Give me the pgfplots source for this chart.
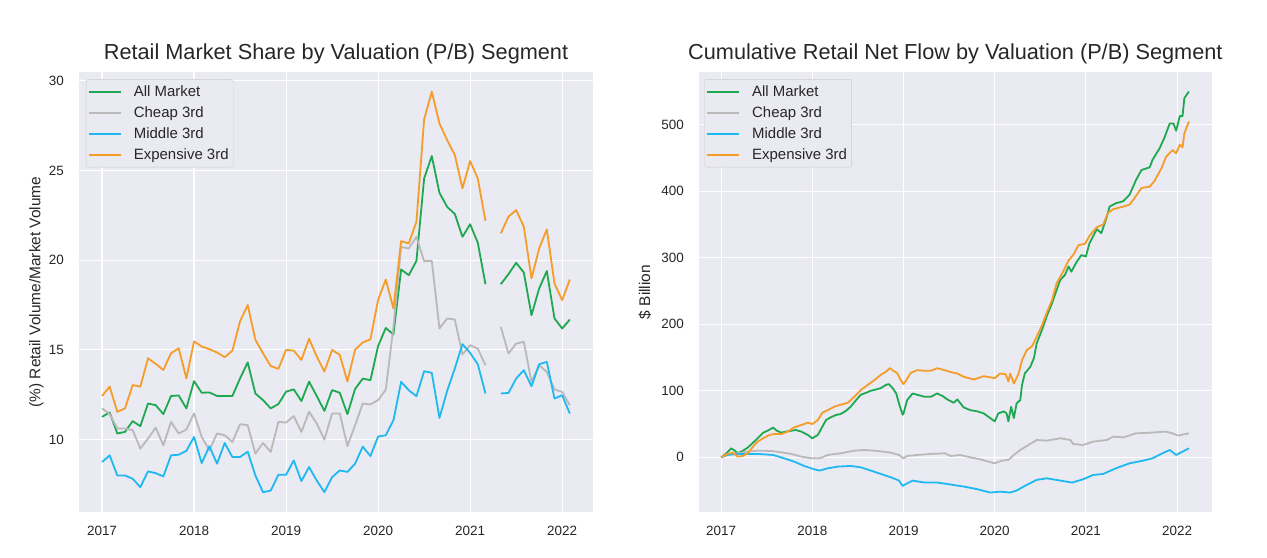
\documentclass[border=0pt]{standalone}
\usepackage{fontspec}
\setmainfont{Liberation Sans}
\usepackage{pgfplots}
\usepackage{pgfplotstable}
\pgfplotsset{compat=1.18}
\definecolor{bg}{HTML}{EAEAF2}
\definecolor{cgreen}{RGB}{30,168,80}
\definecolor{cgray}{RGB}{185,185,185}
\definecolor{cblue}{RGB}{30,185,240}
\definecolor{corange}{RGB}{246,156,40}
\definecolor{ctext}{HTML}{262626}

\pgfplotstableread{
m all cheap middle expensive
0 11.27 11.74 8.75 12.43
1 11.51 11.42 9.12 12.95
2 10.34 10.62 8.00 11.55
3 10.43 10.62 8.00 11.74
4 11.03 10.52 7.82 13.04
5 10.75 9.50 7.35 12.95
6 12.01 10.06 8.23 14.53
7 11.92 10.67 8.13 14.22
8 11.42 9.68 7.95 13.88
9 12.43 10.99 9.12 14.81
10 12.46 10.34 9.16 15.09
11 11.74 10.56 9.37 13.41
12 13.26 11.46 10.15 15.47
13 12.61 10.15 8.69 15.19
14 12.63 9.40 9.63 15.04
15 12.43 10.34 8.66 14.85
16 12.43 10.24 9.81 14.59
17 12.43 9.87 9.03 14.96
18 13.41 10.86 9.03 16.59
19 14.30 10.80 9.33 17.50
20 12.57 9.22 8.00 15.56
21 12.20 9.81 7.07 14.81
22 11.74 9.31 7.16 14.10
23 11.98 10.99 8.04 13.94
24 12.67 10.95 8.04 15.00
25 12.80 11.31 8.84 14.96
26 12.15 10.43 7.69 14.44
27 13.23 11.55 8.47 15.62
28 12.43 10.90 7.72 14.63
29 11.60 10.00 7.07 13.79
30 12.76 11.46 7.91 15.00
31 12.61 11.46 8.28 14.72
32 11.42 9.64 8.20 13.24
33 12.82 10.80 8.66 15.01
34 13.40 12.01 9.61 15.41
35 13.31 11.96 9.08 15.59
36 15.21 12.20 10.17 17.78
37 16.22 12.78 10.24 18.92
38 15.86 16.28 11.08 17.30
39 19.48 20.74 13.22 21.06
40 19.16 20.65 12.75 20.93
41 19.96 21.30 12.42 22.14
42 24.55 19.94 13.81 27.84
43 25.80 19.96 13.72 29.39
44 23.75 16.19 11.21 27.62
45 22.97 16.75 12.71 26.69
46 22.57 16.69 13.96 25.86
47 21.30 14.74 15.32 24.00
48 22.00 15.26 14.83 25.52
49 20.97 15.07 14.20 24.55
50 18.66 14.14 12.57 22.19
51 nan nan nan nan
52 18.66 16.28 12.57 21.49
53 19.22 14.80 12.60 22.42
54 19.85 15.35 13.40 22.79
55 19.31 15.45 13.87 21.86
56 16.93 13.22 12.97 18.98
57 18.42 14.14 14.20 20.65
58 19.39 13.77 14.33 21.71
59 16.75 12.79 12.29 18.70
60 16.19 12.66 12.47 17.77
61 16.69 11.91 11.45 18.92
}\sharetable

\pgfplotstableread{
x y
2017.00 0
2017.05 5
2017.11 13.5
2017.15 10
2017.18 6
2017.24 10
2017.29 14.5
2017.35 22
2017.40 28.6
2017.46 37
2017.51 40
2017.57 44.6
2017.61 40
2017.66 37
2017.71 38.6
2017.77 40
2017.82 41
2017.88 38.6
2017.95 33.6
2018.00 28.6
2018.06 33.6
2018.09 41
2018.15 56
2018.20 60
2018.26 63.7
2018.31 65
2018.37 70
2018.42 76
2018.48 86
2018.53 94
2018.59 97
2018.64 100
2018.70 102
2018.75 104
2018.81 109
2018.84 110
2018.88 104
2018.92 96
2018.95 81
2018.99 64
2019.00 66
2019.04 86
2019.10 96
2019.15 94
2019.23 91
2019.30 91
2019.37 96
2019.43 92
2019.48 87
2019.55 82
2019.59 87
2019.66 75
2019.73 71
2019.81 69
2019.88 66
2019.95 59
2020.00 54
2020.04 66
2020.10 69
2020.13 66
2020.15 54
2020.18 76
2020.21 59
2020.24 81
2020.28 86
2020.30 109
2020.33 126
2020.39 136
2020.43 149
2020.46 171
2020.52 192
2020.57 212
2020.63 232
2020.68 252
2020.72 267
2020.77 274
2020.81 287
2020.84 279
2020.90 294
2020.95 304
2021.00 302
2021.04 322
2021.12 343
2021.17 337
2021.23 362
2021.26 377
2021.33 382
2021.41 385
2021.48 395
2021.55 417
2021.61 432
2021.70 436
2021.73 447
2021.81 465
2021.86 480
2021.92 502
2021.96 502
2021.99 491
2022.03 513
2022.06 513
2022.08 540
2022.13 550
}\flowall

\pgfplotstableread{
x y
2017.00 0
2017.07 5
2017.13 7
2017.18 1
2017.24 2
2017.29 6
2017.35 16
2017.40 23.6
2017.46 28.6
2017.53 33.6
2017.58 35
2017.66 35
2017.73 38.6
2017.80 45
2017.88 48.6
2017.95 52
2018.00 50
2018.06 56
2018.11 67
2018.17 71
2018.24 76
2018.31 79
2018.39 82
2018.46 91
2018.53 101
2018.61 109
2018.68 116
2018.75 124
2018.81 129
2018.85 134
2018.90 129
2018.93 127
2018.97 116
2019.00 110
2019.03 116
2019.08 127
2019.15 131
2019.23 130
2019.30 130
2019.37 134
2019.45 131
2019.52 128
2019.59 126
2019.66 121
2019.77 117
2019.88 122
2020.00 119
2020.06 126
2020.12 125
2020.15 114
2020.17 126
2020.21 111
2020.26 125
2020.30 146
2020.35 161
2020.41 167
2020.47 184
2020.52 199
2020.57 217
2020.63 237
2020.68 262
2020.75 279
2020.81 296
2020.86 304
2020.92 319
2020.99 321
2021.04 333
2021.12 346
2021.19 350
2021.24 367
2021.30 373
2021.41 377
2021.48 380
2021.55 393
2021.61 405
2021.70 407
2021.75 415
2021.83 435
2021.88 452
2021.95 462
2021.99 457
2022.03 470
2022.06 466
2022.08 487
2022.13 505
}\flowexp

\pgfplotstableread{
x y
2017.00 0
2017.07 5
2017.18 6
2017.29 8.5
2017.40 10
2017.55 9.5
2017.66 7.5
2017.77 5
2017.88 1
2017.99 -1.5
2018.08 -1.5
2018.17 3.5
2018.31 6
2018.46 10
2018.57 11
2018.72 9.5
2018.86 7
2018.95 3.5
2019.00 -1.5
2019.04 2
2019.15 3.5
2019.30 5
2019.45 6
2019.52 2
2019.62 3.5
2019.73 0
2019.84 -3
2019.93 -6.5
2020.00 -9
2020.08 -5
2020.15 -4
2020.21 3.5
2020.28 11
2020.37 18.5
2020.46 26
2020.57 25
2020.72 28.6
2020.83 26
2020.86 20
2020.97 18.5
2021.08 23.6
2021.23 26
2021.30 31
2021.41 30
2021.55 36
2021.70 37
2021.88 38.6
2021.95 36
2022.01 32.6
2022.13 36
}\flowcheap

\pgfplotstableread{
x y
2017.00 0
2017.07 3.5
2017.18 5
2017.40 5
2017.57 3.5
2017.69 -1.5
2017.80 -6.5
2017.91 -13
2018.02 -18
2018.08 -20
2018.17 -16.5
2018.28 -14
2018.42 -13
2018.53 -15
2018.64 -20
2018.75 -25
2018.86 -30
2018.95 -35
2018.99 -43
2019.03 -40
2019.10 -35
2019.23 -38
2019.37 -38
2019.52 -41
2019.66 -44
2019.81 -48
2019.95 -53
2020.06 -51.7
2020.17 -53
2020.24 -50
2020.35 -41.6
2020.46 -34
2020.57 -31.6
2020.72 -35
2020.85 -38
2020.97 -33
2021.08 -26.6
2021.19 -25
2021.33 -16.5
2021.48 -9
2021.63 -5
2021.73 -1.5
2021.84 6
2021.92 11
2021.99 3.5
2022.06 8.5
2022.13 13.5
}\flowmid

\pgfplotsset{
  sns/.style={
    scale only axis, anchor=south west,
    axis background/.style={fill=bg},
    axis line style={draw=none},
    grid=major, major grid style={white, line width=1.1bp},
    major tick length=0pt,
    tick label style={font=\fontsize{13.5}{15}\selectfont, text=ctext, inner sep=0pt},
    /pgf/number format/assume math mode=true,
    xtick={2017,2018,2019,2020,2021,2022},
    xticklabels={2017,2018,2019,2020,2021,2022},
    xticklabel shift=14bp, yticklabel shift=15bp,
    title style={font=\fontsize{21.8}{25}\selectfont, text=ctext, at={(axis description cs:0.5,1)}, anchor=base, yshift=6.3bp},
    every axis y label/.style={at={(axis description cs:0,0.5)}, rotate=90, anchor=center, font=\fontsize{15.5}{17}\selectfont, text=ctext},
    legend style={at={(axis description cs:0.0136,0.983)}, anchor=north west, fill=bg, draw=black!20, rounded corners=2bp,
      font=\fontsize{15}{17}\selectfont, text=ctext, inner xsep=1.7bp, inner ysep=4.5bp, row sep=4.5bp,
      nodes={inner xsep=3bp, inner ysep=2bp},
      /tikz/every odd column/.append style={column sep=9bp}},
    legend cell align=left,
    legend image code/.code={\draw[#1, line width=2bp] (0bp,0bp) -- (32bp,0bp);},
    unbounded coords=jump,
    every axis plot/.append style={line width=1.8bp, line join=round},
  }
}

\begin{document}
\begin{tikzpicture}[x=1bp,y=1bp]
\useasboundingbox (0,0) rectangle (1267,558);
\begin{axis}[sns, at={(79bp,45.7bp)}, width=514bp, height=440.6bp,
  xmin=2016.75, xmax=2022.335, ymin=5.95, ymax=30.5,
  ytick={10,15,20,25,30},
  title={Retail Market Share by Valuation (P/B) Segment},
  ylabel={(\%) Retail Volume/Market Volume},
  ylabel style={yshift=42.5bp},
]
\addplot[cgreen] table[x expr=2017+\thisrow{m}/12, y=all] {\sharetable};
\addlegendentry{All Market}
\addplot[cgray] table[x expr=2017+\thisrow{m}/12, y=cheap] {\sharetable};
\addlegendentry{Cheap 3rd}
\addplot[cblue] table[x expr=2017+\thisrow{m}/12, y=middle] {\sharetable};
\addlegendentry{Middle 3rd}
\addplot[corange] table[x expr=2017+\thisrow{m}/12, y=expensive] {\sharetable};
\addlegendentry{Expensive 3rd}
\end{axis}
\begin{axis}[sns, at={(699bp,45.7bp)}, width=512.7bp, height=440.6bp,
  xmin=2016.757, xmax=2022.38, ymin=-82.7, ymax=579.8,
  ytick={0,100,200,300,400,500},
  title={Cumulative Retail Net Flow by Valuation (P/B) Segment},
  ylabel={\$ Billion},
  ylabel style={yshift=54bp},
  legend style={at={(axis description cs:0.0103,0.983)}},
]
\addplot[cgreen] table[x=x, y=y] {\flowall};
\addlegendentry{All Market}
\addplot[cgray] table[x=x, y=y] {\flowcheap};
\addlegendentry{Cheap 3rd}
\addplot[cblue] table[x=x, y=y] {\flowmid};
\addlegendentry{Middle 3rd}
\addplot[corange] table[x=x, y=y] {\flowexp};
\addlegendentry{Expensive 3rd}
\end{axis}
\end{tikzpicture}
\end{document}
